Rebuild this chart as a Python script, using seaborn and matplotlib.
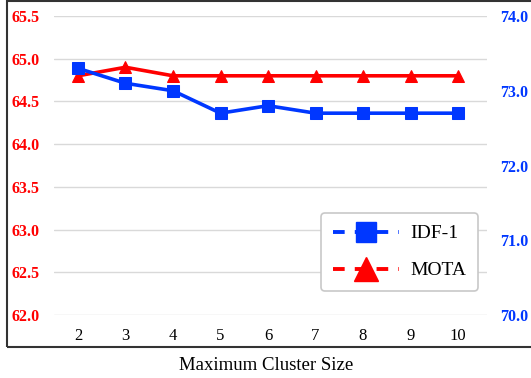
import matplotlib
matplotlib.use("Agg")
import pandas as pd
import seaborn as sns
import matplotlib.pyplot as plt
from matplotlib.lines import Line2D
from matplotlib.patches import Rectangle

# data
cluster_size = [2, 3, 4, 5, 6, 7, 8, 9, 10]
mota = [64.8, 64.9, 64.8, 64.8, 64.8, 64.8, 64.8, 64.8, 64.8]
idf1 = [73.3, 73.1, 73.0, 72.7, 72.8, 72.7, 72.7, 72.7, 72.7]
left_ticks = [62.0, 62.5, 63.0, 63.5, 64.0, 64.5, 65.0, 65.5]
right_ticks = [70.0, 71.0, 72.0, 73.0, 74.0]

df = pd.DataFrame({"size": cluster_size, "MOTA": mota, "IDF-1": idf1})

sns.set_theme(style="white")
plt.rcParams["font.family"] = ["Liberation Serif", "DejaVu Serif"]
plt.rcParams["text.color"] = "black"
plt.rcParams["xtick.color"] = "black"

fig = plt.figure(figsize=(5.31, 3.78), dpi=100)
ax = fig.add_axes([54 / 531, 1 - 315 / 378, 433 / 531, 299 / 378])
ax2 = ax.twinx()

RED = "#ff0000"
BLUE = "#0037ff"

sns.lineplot(data=df, x="size", y="MOTA", ax=ax, color=RED, lw=2.6,
             marker="^", markersize=9, markeredgecolor=RED, legend=False)
sns.lineplot(data=df, x="size", y="IDF-1", ax=ax2, color=BLUE, lw=2.6,
             marker="s", markersize=9, markeredgecolor=BLUE, legend=False)

ax.set_xlim(1.495, 10.61)
ax.set_ylim(62.0, 65.5)
ax2.set_ylim(70.0, 74.0)
ax.set_yticks(left_ticks)
ax.set_yticklabels([f"{v:.1f}" for v in left_ticks], color=RED,
                   fontweight="bold", fontsize=11.5)
ax2.set_yticks(right_ticks)
ax2.set_yticklabels([f"{v:.1f}" for v in right_ticks], color=BLUE,
                    fontweight="bold", fontsize=11.5)
ax.set_xticks(cluster_size)
ax.set_xticklabels([str(v) for v in cluster_size], fontsize=12, color="black")
ax.grid(axis="y", color="#d9d9d9", lw=1)
ax2.grid(False)
ax.tick_params(axis="x", length=0, pad=9)
ax.tick_params(axis="y", length=0, pad=10.5)
ax2.tick_params(axis="y", length=0, pad=9.5)
for a in (ax, ax2):
    for s in a.spines.values():
        s.set_visible(False)
ax.set_xlabel("")
ax.set_ylabel("")
ax2.set_ylabel("")

handles = [
    Line2D([0], [0], color=BLUE, lw=2.8, ls=(0, (3.0, 2.6)), marker="s",
           markersize=14),
    Line2D([0], [0], color=RED, lw=2.8, ls=(0, (3.0, 2.6)), marker="^",
           markersize=17),
]
leg = ax2.legend(handles, ["IDF-1", "MOTA"], loc="lower right",
                 bbox_to_anchor=(0.98, 0.08), fontsize=14, handlelength=3.4,
                 handletextpad=0.6, labelspacing=1.0, borderpad=0.6,
                 borderaxespad=0, frameon=True, fancybox=True,
                 edgecolor="#c8c8c8", framealpha=1)
leg.get_frame().set_linewidth(1.2)

# outer frame around the chart (right edge runs off the image)
fig.patches.append(Rectangle((7 / 531, 1 - 347 / 378), 540 / 531, 346 / 378,
                             transform=fig.transFigure, fill=False,
                             edgecolor="#333333", lw=1.5))
fig.text(266 / 531, 1 - 366 / 378, "Maximum Cluster Size", ha="center",
         va="center", fontsize=13.5)

fig.savefig("out.png", dpi=100)
